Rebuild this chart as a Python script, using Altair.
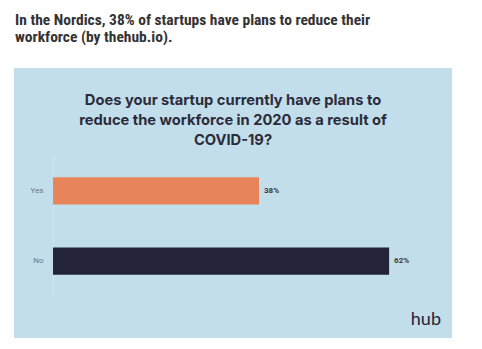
import altair as alt
import pandas as pd

categories = ["Yes", "No"]
values = [38, 62]
value_labels = ["38%", "62%"]
bar_colors = ["#E8845A", "#23233A"]

outer_title = ["In the Nordics, 38% of startups have plans to reduce their",
               "workforce (by thehub.io)."]
inner_title = ["Does your startup currently have plans to",
               "reduce the workforce in 2020 as a result of",
               "COVID-19?"]

df = pd.DataFrame({"answer": categories, "pct": values, "label": value_labels, "color": bar_colors})

x_scale = alt.Scale(domain=[-7.2, 73.6], nice=False, zero=False)
y_scale = alt.Scale(domain=categories, range=[89, 227], paddingInner=0.614, paddingOuter=0.29)

base = alt.Chart(df)

bars = base.mark_bar().encode(
    x=alt.X("pct:Q", scale=x_scale, axis=None),
    x2=alt.datum(0),
    y=alt.Y("answer:N", scale=y_scale, title=None,
            axis=alt.Axis(offset=-39, ticks=False, labelPadding=10, labelFontSize=8,
                          labelColor="#6f777d", labelFont="Roboto", domainColor="#d3e5ee",
                          domainWidth=1, grid=False)),
    color=alt.Color("color:N", scale=None),
)

labels = base.mark_text(align="left", baseline="middle", dx=5, fontSize=8, fontWeight="bold",
                        font="Roboto", color="#3a3a3a").encode(
    x=alt.X("pct:Q", scale=x_scale),
    y=alt.Y("answer:N", scale=y_scale),
    text="label:N",
)

outer = alt.Chart(pd.DataFrame({"t": [0]})).mark_text(
    text=outer_title, align="left", baseline="alphabetic", fontSize=15.5, fontWeight="bold",
    font="Roboto Condensed, Liberation Sans Narrow, Roboto", color="#333333", lineHeight=17
).encode(x=alt.value(1), y=alt.value(-43))

inner = alt.Chart(pd.DataFrame({"t": [0]})).mark_text(
    text=inner_title, align="center", baseline="alphabetic", fontSize=14.7, fontWeight="bold",
    font="Inter", color="#2b2b3b", lineHeight=20
).encode(x=alt.value(219), y=alt.value(37))

logo = alt.Chart(pd.DataFrame({"t": [0]})).mark_text(
    text="hub", align="right", baseline="alphabetic", fontSize=18, font="Lato",
    color="#23233A"
).encode(x=alt.value(427), y=alt.value(257))

chart = alt.layer(bars, labels, inner, outer, logo).properties(
    width=438, height=270,
    autosize=alt.AutoSizeParams(type="none"),
    padding={"left": 14, "top": 68, "right": 30, "bottom": 11},
    background="white",
).configure_view(fill="#C2DEEA", stroke=None)

chart.save("out.html", embed_options={"renderer": "svg", "actions": False})
